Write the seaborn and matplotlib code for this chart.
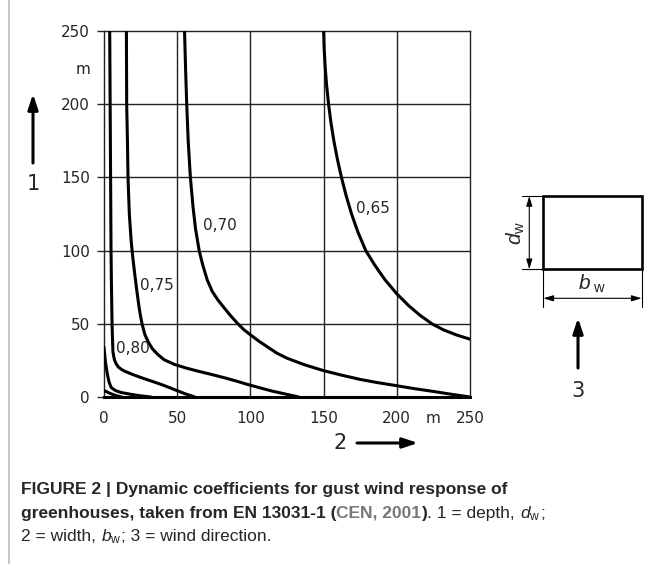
import matplotlib
matplotlib.use("Agg")
import numpy as np
import pandas as pd
import matplotlib.pyplot as plt
import seaborn as sns
from matplotlib.patches import Rectangle

# curves (x = width b_w in m, y = depth d_w in m)
c065_x = [150, 150.4, 151.1, 152.1, 153.4, 155, 157, 159.4, 162.2, 165.4, 169.1, 173.5,
          178.8, 185, 192, 200, 208, 216, 224, 232, 241, 250]
c065_y = [250, 237.5, 225, 212.5, 200, 187.5, 175, 162.5, 150, 137.5, 125, 112.5,
          100, 90, 80, 70.5, 62.5, 55.7, 50, 45.8, 42.3, 39.5]

c070_x = [55, 55.7, 56.5, 57.5, 59, 60.8, 62.5, 65, 67.5, 70.5, 74, 78, 82, 86.5, 91,
          95.5, 100, 106, 112, 118, 125, 137, 150, 162, 175, 187, 200, 212, 225, 237, 250]
c070_y = [250, 225, 200, 175, 150, 130, 115, 100, 90, 80, 72, 66, 61, 55.5, 50.5,
          46, 42.5, 38, 34, 30, 26.5, 22, 18, 15, 12, 9.8, 7.7, 5.7, 3.8, 1.9, 0]

c075_x = [15.3, 15.4, 15.5, 16, 16.4, 17.3, 18.6, 19.7, 21, 22.5, 24, 25, 26, 27.8, 30,
          33, 36.8, 41, 48, 56, 64, 73, 82, 90, 98, 106, 115, 124, 133]
c075_y = [250, 225, 200, 175, 150, 125, 106, 95, 84, 72, 61, 55, 50, 43, 38,
          33, 29, 25.5, 22.3, 19.8, 17.7, 15.5, 13.2, 11, 8.6, 6.4, 4, 2, 0]

c080_x = [3.9, 4.2, 4.5, 4.8, 5.1, 5.5, 5.8, 6.1, 6.6, 7.2, 8.4, 10, 12, 14, 19, 25.5,
          32, 39, 45, 50.5, 56, 62]
c080_y = [250, 200, 150, 100, 75, 50, 40, 31, 28, 25.2, 22.5, 20.3, 18.8, 17.7, 15.6, 13.2,
          11, 8.6, 6.3, 4.1, 2, 0]

# two unlabelled curves close to the origin
ca_x = [0, 0.9, 2.3, 3.5, 5, 8, 12, 18.6, 25, 32]
ca_y = [34, 24.5, 15.5, 10, 6.4, 4.3, 3, 1.8, 0.8, 0]
cb_x = [0, 4, 8, 12]
cb_y = [4.5, 2.5, 1, 0]

curve_labels = ["0,65", "0,70", "0,75", "0,80"]
label_pos = [(184, 129), (79, 117), (36, 76), (19.5, 33)]

tick_vals = [0, 50, 100, 150, 200, 225, 250]
tick_text = ["0", "50", "100", "150", "200", "m", "250"]

W, H = 655, 564

sns.set_style("white")
plt.rcParams["font.family"] = ["DejaVu Sans"]
plt.rcParams["mathtext.fontset"] = "custom"
plt.rcParams["mathtext.rm"] = "Liberation Sans"
plt.rcParams["mathtext.it"] = "Liberation Sans:italic"

fig = plt.figure(figsize=(W / 100, H / 100), dpi=100)
ax = fig.add_axes([104 / W, 1 - 397 / H, 366 / W, 366 / H])

for g in [50, 100, 150, 200]:
    ax.axhline(g, color="#222222", lw=1.0, zorder=1)
    ax.axvline(g, color="#222222", lw=1.0, zorder=1)

curves = [(c065_x, c065_y), (c070_x, c070_y), (c075_x, c075_y),
          (c080_x, c080_y), (ca_x, ca_y), (cb_x, cb_y)]
for xs, ys in curves:
    sns.lineplot(x=xs, y=ys, ax=ax, color="black", lw=2.2, sort=False,
                 estimator=None, zorder=3)

for lab, (lx, ly) in zip(curve_labels, label_pos):
    ax.text(lx, ly, lab, ha="center", va="center", fontsize=11, zorder=4)

ax.set_xlim(0, 250)
ax.set_ylim(0, 250)
ax.set_xlabel("")
ax.set_ylabel("")
ax.set_xticks(tick_vals)
ax.set_xticklabels(tick_text)
ax.set_yticks(tick_vals)
ax.set_yticklabels(tick_text)
ax.tick_params(axis="x", length=0, pad=10, labelsize=11)
ax.tick_params(axis="y", left=True, length=5, width=1, pad=5, labelsize=11)
ax.yaxis.get_major_ticks()[5].tick1line.set_visible(False)

for side in ["top", "right", "left"]:
    ax.spines[side].set_color("#222222")
    ax.spines[side].set_linewidth(1.0)
ax.spines["bottom"].set_color("black")
ax.spines["bottom"].set_linewidth(2.2)

# overlay in pixel coordinates for arrows, sketch and caption
ov = fig.add_axes([0, 0, 1, 1], facecolor="none")
ov.set_xlim(0, W)
ov.set_ylim(H, 0)
ov.axis("off")

big = dict(arrowstyle="-|>,head_length=0.9,head_width=0.3", lw=2.2, color="black",
           shrinkA=0, shrinkB=0)
ov.annotate("", xy=(33, 94), xytext=(33, 163), arrowprops=big)
ov.text(33, 184, "1", ha="center", va="center", fontsize=15)
ov.annotate("", xy=(418, 443), xytext=(357, 443), arrowprops=big)
ov.text(340, 443, "2", ha="center", va="center", fontsize=15)
ov.annotate("", xy=(578, 318), xytext=(578, 368), arrowprops=big)
ov.text(578, 391, "3", ha="center", va="center", fontsize=15)

# plan sketch of the greenhouse
ov.add_patch(Rectangle((543.3, 196), 98.4, 73.3, fill=False, lw=1.9, ec="black"))
dim = dict(arrowstyle="<|-|>,head_length=0.6,head_width=0.18", lw=0.8, color="black",
           shrinkA=0, shrinkB=0)
ov.annotate("", xy=(529.3, 196), xytext=(529.3, 269.3), arrowprops=dim)
ov.plot([521.5, 543.3], [196, 196], color="black", lw=0.8)
ov.plot([521.5, 543.3], [269.3, 269.3], color="black", lw=0.8)
ov.annotate("", xy=(543.3, 298.3), xytext=(641.7, 298.3), arrowprops=dim)
ov.plot([543.3, 543.3], [269.3, 306.5], color="black", lw=0.8)
ov.plot([641.7, 641.7], [269.3, 306.5], color="black", lw=0.8)
ov.text(516, 233, r"$\mathit{d}_{\mathrm{w}}$", rotation=90, ha="center", va="center",
        fontsize=15)
ov.text(592, 284, r"$\mathit{b}_{\ \mathrm{w}}$", ha="center", va="center", fontsize=15)

# page border line at the left
ov.plot([9, 9], [0, H], color="#bbbbbb", lw=1.2)

# caption, built from runs of differently styled text
renderer = fig.canvas.get_renderer()
cap = "Liberation Sans"


def put_runs(x, y, runs):
    for s, kw in runs:
        t = fig.text(x / W, 1 - y / H, s, ha="left", va="baseline", family=cap,
                     fontsize=12.5, **kw)
        x = t.get_window_extent(renderer).x1


put_runs(21, 494, [("FIGURE 2 | Dynamic coefficients for gust wind response of",
                    dict(weight="bold"))])
put_runs(21, 518, [("greenhouses, taken from EN 13031-1 (", dict(weight="bold")),
                   ("CEN, 2001", dict(weight="bold", color="#777777")),
                   (")", dict(weight="bold")),
                   (". 1 = depth, ", {}),
                   (r"$\mathit{d}_{\mathrm{w}}$", {}),
                   (";", {})])
put_runs(21, 541, [("2 = width, ", {}),
                   (r"$\mathit{b}_{\mathrm{w}}$", {}),
                   ("; 3 = wind direction.", {})])

fig.savefig("out.png", dpi=100)
